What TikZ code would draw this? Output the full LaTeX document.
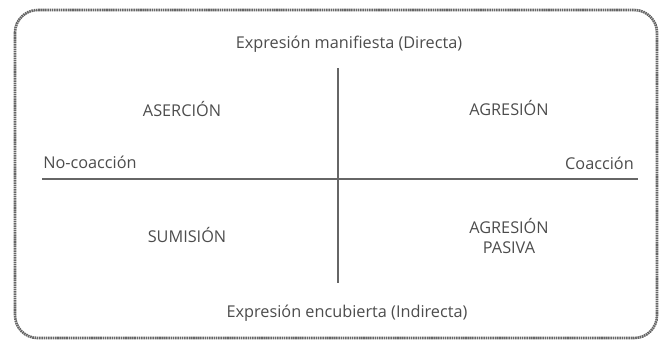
\documentclass[tikz,border=0pt]{standalone}
\usepackage{fontspec}
\setmainfont{Open Sans}
\usetikzlibrary{positioning,calc}

\definecolor{inkgray}{HTML}{4C4C4C}
\definecolor{axisgray}{HTML}{666666}

\tikzset{
    label text/.style={text=inkgray, font=\fontsize{12.2}{14}\selectfont, inner sep=0pt},
    quadrant/.style={label text, align=center},
    axis line/.style={draw=axisgray, line width=1.6pt},
    frame line/.style={draw=axisgray, line width=2pt, dash pattern=on 1.2pt off 0.5pt, rounded corners=17pt}
}

\begin{document}
\begin{tikzpicture}[x=0.75pt, y=-0.75pt]
        % Fix the canvas size
        \useasboundingbox (0,0) rectangle (659,340);

        % Rounded outer frame
        \draw[frame line] (15,10) rectangle (657,338);

        % Ends of the two axes
        \coordinate (top) at (338, 68);
        \coordinate (bottom) at (338, 283);
        \coordinate (left) at (42, 179);
        \coordinate (right) at (638, 179);

        % Draw the axes
        \draw[axis line] (left) -- (right);
        \draw[axis line] (top) -- (bottom);

        % Axis labels
        \node[label text] (direct) at (349, 44) {Expresión manifiesta (Directa)};
        \node[label text] (indirect) at (347, 313) {Expresión encubierta (Indirecta)};
        \node[label text, anchor=west] (nocoerce) at (43, 162) {No-coacción};
        \node[label text, anchor=east] (coerce) at (634, 163) {Coacción};

        % Quadrant names
        \node[quadrant] (assert) at (182, 109) {ASERCIÓN};
        \node[quadrant] (aggress) at (509, 108) {AGRESIÓN};
        \node[quadrant] (submit) at (187, 235) {SUMISIÓN};
        \node[quadrant] (passive) at (509, 236) {AGRESIÓN\\[1pt]PASIVA};

    \end{tikzpicture}
\end{document}
